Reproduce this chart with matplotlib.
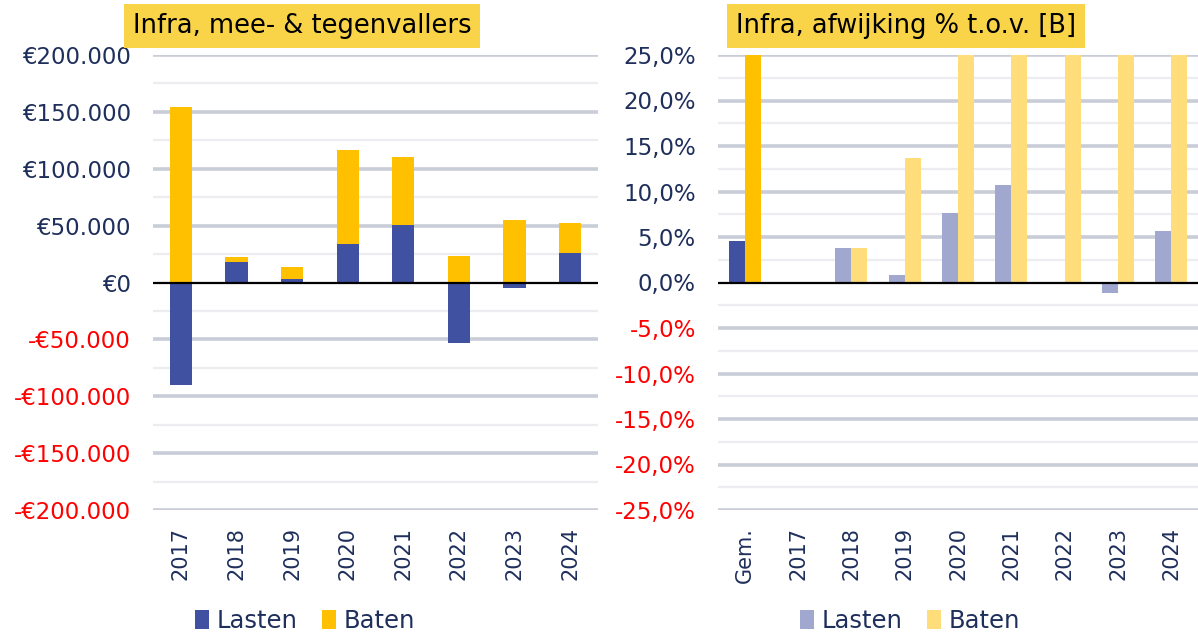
import matplotlib
matplotlib.use("Agg")
import matplotlib.pyplot as plt
import numpy as np
from matplotlib.patches import Patch

plt.rcParams['font.family'] = ['DejaVu Sans']

# ---- data ----
years = ['2017', '2018', '2019', '2020', '2021', '2022', '2023', '2024']
lasten_eur = [-90000, 18400, 3500, 34200, 50900, -53500, -5000, 26300]
baten_eur = [154000, 3600, 10500, 82000, 59000, 23400, 55000, 25700]

cats_pct = ['Gem.', '2017', '2018', '2019', '2020', '2021', '2022', '2023', '2024']
lasten_pct = [4.6, 0.0, 3.8, 0.8, 7.6, 10.7, 0.0, -1.1, 5.7]
baten_pct = [30.0, 0.0, 3.8, 13.7, 30.0, 30.0, 30.0, 30.0, 30.0]

title_left = 'Infra, mee- & tegenvallers'
title_right = 'Infra, afwijking % t.o.v. [B]'

# ---- style ----
C_LAST = '#3F51A0'
C_BAT = '#FFC000'
C_LAST_L = '#A0A8D0'
C_BAT_L = '#FEDD7A'
NAVY = '#1F2F5C'
RED = '#FF0000'
GRID_MAJ = '#C9CDD8'
GRID_MIN = '#ECECF1'

W, H = 1198, 635
fig = plt.figure(figsize=(W / 100, H / 100), dpi=100)

axL = fig.add_axes([153 / W, 1 - 510 / H, 445 / W, 455 / H])
axR = fig.add_axes([718 / W, 1 - 510 / H, 480 / W, 455 / H])


def style_axis(ax, ylim, major, minor):
    ax.set_ylim(*ylim)
    for s in ax.spines.values():
        s.set_visible(False)
    for v in np.arange(ylim[0], ylim[1] + minor / 2, minor):
        if abs(v) < 1e-9:
            continue
        is_major = abs((v / major) - round(v / major)) < 1e-6
        ax.axhline(v, color=GRID_MAJ if is_major else GRID_MIN,
                   lw=2.6 if is_major else 1.6, zorder=0)
    ax.axhline(0, color='black', lw=1.6, zorder=3)
    ax.tick_params(axis='both', length=0)
    ax.tick_params(axis='y', pad=16, labelsize=16.5)
    ax.tick_params(axis='x', pad=12, labelsize=15, labelrotation=90, labelcolor=NAVY)


# ---- left chart ----
xL = np.arange(len(years))
axL.bar(xL, lasten_eur, width=0.4, color=C_LAST, zorder=2)
base = [max(v, 0) for v in lasten_eur]
axL.bar(xL, baten_eur, width=0.4, bottom=base, color=C_BAT, zorder=2)
axL.set_xlim(-0.5, len(years) - 0.5)
style_axis(axL, (-200000, 200000), 50000, 25000)
axL.set_xticks(xL)
axL.set_xticklabels(years)
yt = np.arange(-200000, 200001, 50000)
axL.set_yticks(yt)


def fmt_eur(v):
    s = f"{abs(int(v)):,}".replace(',', '.')
    return ('-€' if v < 0 else '€') + s


axL.set_yticklabels([fmt_eur(v) for v in yt])
for lab, v in zip(axL.get_yticklabels(), yt):
    lab.set_color(RED if v < 0 else NAVY)

# ---- right chart ----
xR = np.arange(len(cats_pct))
bw = 0.3
for i in range(len(cats_pct)):
    cl = C_LAST if i == 0 else C_LAST_L
    cb = C_BAT if i == 0 else C_BAT_L
    axR.bar(xR[i] - bw / 2, lasten_pct[i], width=bw, color=cl, zorder=2)
    axR.bar(xR[i] + bw / 2, baten_pct[i], width=bw, color=cb, zorder=2)
axR.set_xlim(-0.5, len(cats_pct) - 0.5)
style_axis(axR, (-25, 25), 5, 2.5)
axR.set_xticks(xR)
axR.set_xticklabels(cats_pct)
ytr = np.arange(-25, 25.01, 5)
axR.set_yticks(ytr)
axR.set_yticklabels([f"{v:.1f}%".replace('.', ',') for v in ytr])
for lab, v in zip(axR.get_yticklabels(), ytr):
    lab.set_color(RED if v < 0 else NAVY)

# ---- titles ----
box = dict(facecolor='#F9D448', edgecolor='none', boxstyle='square,pad=0.35')
fig.text(302 / W, 1 - 26 / H, title_left, ha='center', va='center',
         fontsize=18.5, color='black', bbox=box)
fig.text(906 / W, 1 - 26 / H, title_right, ha='center', va='center',
         fontsize=18.5, color='black', bbox=box)

# ---- legends ----
def add_legend(cx, c1, c2):
    handles = [Patch(facecolor=c1, edgecolor='none'), Patch(facecolor=c2, edgecolor='none')]
    fig.legend(handles, ['Lasten', 'Baten'], loc='center', bbox_to_anchor=(cx, 1 - 621 / H),
               ncol=2, frameon=False, fontsize=17.5, handlelength=0.6, handleheight=0.8,
               handletextpad=0.3, columnspacing=1.0, labelcolor=NAVY)


add_legend(305 / W, C_LAST, C_BAT)
add_legend(910 / W, C_LAST_L, C_BAT_L)

fig.savefig('out.png', dpi=100)
